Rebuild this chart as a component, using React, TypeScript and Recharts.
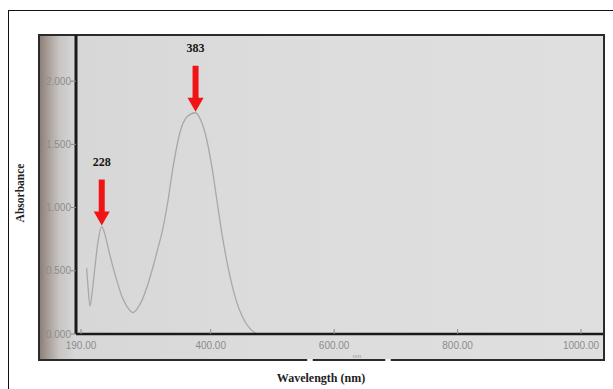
import React from 'react';
import { ComposedChart, Line, Scatter, XAxis, YAxis } from 'recharts';

// Spectrum
const wavelengths = [199, 201.5, 204.5, 208, 212.5, 218, 223.5, 228, 233.5, 240, 247.5, 256, 264, 274, 281, 289, 298, 306.5, 314, 321, 331, 339, 350, 362, 375.5, 384, 391, 402, 410, 418, 428, 441, 451, 464, 475];
const absorbance = [0.52, 0.36, 0.22, 0.33, 0.53, 0.75, 0.85, 0.8, 0.69, 0.56, 0.43, 0.3, 0.22, 0.17, 0.2, 0.27, 0.39, 0.53, 0.67, 0.8, 1.06, 1.32, 1.59, 1.72, 1.75, 1.69, 1.59, 1.32, 1.06, 0.8, 0.53, 0.27, 0.14, 0.04, 0.0];

const xTicks = [190, 400, 600, 800, 1000];
const yTicks = [0, 0.5, 1, 1.5, 2];

const peakWavelengths = [223.5, 375.5];
const peakAbsorbance = [0.85, 1.75];
const peakLabels = ['228', '383'];

const spectrum = wavelengths.map((w, i) => ({ wl: w, abs: absorbance[i] }));
const peaks = peakWavelengths.map((w, i) => ({ wl: w, peak: peakAbsorbance[i], label: peakLabels[i] }));

const TICK_COLOR = '#8c8c8c';
const TICK_FONT = '"Liberation Sans", Arial, sans-serif';

const XTick = (props: any) => {
  const { x, y, payload } = props;
  return (
    <g>
      <line x1={x} x2={x} y1={y - 5} y2={y} stroke="#8a8a8a" strokeWidth={1} />
      <text x={x} y={y + 15} textAnchor="middle" fontSize={10} fontFamily={TICK_FONT} fill={TICK_COLOR}>
        {Number(payload.value).toFixed(2)}
      </text>
    </g>
  );
};

const YTick = (props: any) => {
  const { x, y, payload } = props;
  return (
    <g>
      <line x1={x - 5} x2={x} y1={y} y2={y} stroke="#8a8a8a" strokeWidth={1} />
      <text x={x - 5} y={y + 3.5} textAnchor="end" fontSize={10} fontFamily={TICK_FONT} fill={TICK_COLOR}>
        {Number(payload.value).toFixed(3)}
      </text>
    </g>
  );
};

const Arrow = (props: any) => {
  const { cx, cy, payload } = props;
  if (cx == null || cy == null) return null;
  const tip = cy - 1;
  return (
    <g>
      <text x={cx} y={tip - 60} textAnchor="middle" fontSize={12} fontWeight="bold" fontFamily='"Liberation Serif", "Times New Roman", serif' fill="#151515">
        {payload.label}
      </text>
      <rect x={cx - 3} y={tip - 46} width={6} height={34} fill="#f01414" />
      <polygon points={`${cx - 8},${tip - 14} ${cx + 8},${tip - 14} ${cx},${tip}`} fill="#f01414" />
    </g>
  );
};

export default function App() {
  return (
    <div style={{ position: 'absolute', left: 0, top: 0, width: 613, height: 389, background: '#ffffff', overflow: 'hidden' }}>
      {/* outer white frame */}
      <div style={{ position: 'absolute', left: 8, top: 10, width: 620, height: 400, border: '1px solid #111', boxSizing: 'border-box' }} />
      {/* photo background */}
      <div style={{ position: 'absolute', left: 39, top: 35, width: 564, height: 324, background: 'linear-gradient(90deg, #d6d6d6 0%, #dcdcdc 40%, #dfdfdf 100%)' }} />
      <div style={{ position: 'absolute', left: 39, top: 35, width: 37, height: 324, background: 'linear-gradient(90deg, #8a7c75 0%, #a99f99 25%, #c8c5c3 55%, #d8d8d8 100%)' }} />
      <div style={{ position: 'absolute', left: 38, top: 34, width: 567, height: 327, border: '2.5px solid #2b2b2b', boxSizing: 'border-box' }} />
      <div style={{ position: 'absolute', left: 307, top: 358.5, width: 6, height: 2, background: '#f4f4f4', borderRadius: 1 }} />
      <div style={{ position: 'absolute', left: 385, top: 358.5, width: 6, height: 2, background: '#f4f4f4', borderRadius: 1 }} />
      <div style={{ position: 'absolute', left: 0, top: 0 }}>
        <ComposedChart width={613} height={389} data={spectrum} margin={{ top: 35, right: 10, left: 0, bottom: 30 }}>
          <XAxis
            dataKey="wl"
            type="number"
            domain={[181.8, 1035.6]}
            ticks={xTicks}
            allowDataOverflow
            height={25}
            tickSize={0}
            tickMargin={0}
            tickLine={false}
            tick={<XTick />}
            axisLine={{ stroke: '#1a1a1a', strokeWidth: 2.5 }}
          />
          <YAxis
            type="number"
            domain={[0, 2.365]}
            ticks={yTicks}
            allowDataOverflow
            width={76}
            tickSize={0}
            tickMargin={0}
            tickLine={false}
            tick={<YTick />}
            axisLine={{ stroke: '#1a1a1a', strokeWidth: 3 }}
          />
          <Line dataKey="abs" type="monotone" stroke="#a8a8a8" strokeWidth={1.3} dot={false} isAnimationActive={false} />
          <Scatter data={peaks} dataKey="peak" shape={<Arrow />} isAnimationActive={false} />
        </ComposedChart>
      </div>
      <svg width={613} height={389} style={{ position: 'absolute', left: 0, top: 0, pointerEvents: 'none' }}>
        <text x={357} y={358} textAnchor="middle" fontSize={6} fontFamily={TICK_FONT} fill="#999">nm</text>
        <text x={0} y={0} transform="translate(24,193) rotate(-90)" textAnchor="middle" fontSize={11.5} fontWeight="bold" fontFamily='"Liberation Serif", "Times New Roman", serif' fill="#222">Absorbance</text>
        <text x={321} y={382} textAnchor="middle" fontSize={12} fontWeight="bold" fontFamily='"Liberation Serif", "Times New Roman", serif' fill="#222">Wavelength (nm)</text>
      </svg>
    </div>
  );
}
